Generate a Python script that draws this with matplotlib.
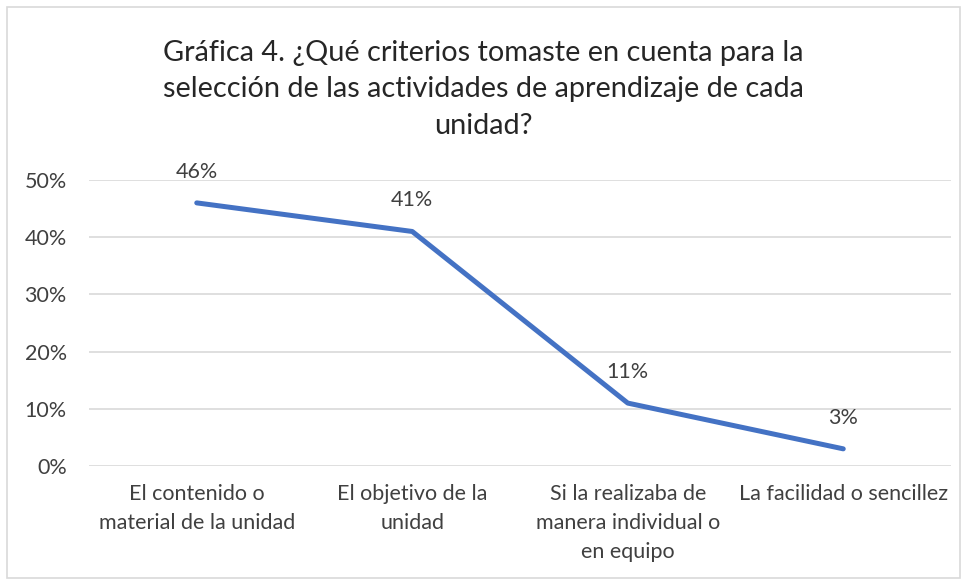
import matplotlib
matplotlib.use("Agg")
import matplotlib.pyplot as plt
from matplotlib.patches import Rectangle
from matplotlib.ticker import PercentFormatter

categories = ["El contenido o\nmaterial de la unidad",
              "El objetivo de la\nunidad",
              "Si la realizaba de\nmanera individual o\nen equipo",
              "La facilidad o sencillez"]
values = [0.46, 0.41, 0.11, 0.03]
labels = ["46%", "41%", "11%", "3%"]
yticks = [0, 0.1, 0.2, 0.3, 0.4, 0.5]
title = "Gráfica 4. ¿Qué criterios tomaste en cuenta para la\nselección de las actividades de aprendizaje de cada\nunidad?"

plt.rcParams['font.family'] = ['Lato', 'DejaVu Sans']

W, H = 967, 584
fig = plt.figure(figsize=(W/100, H/100), dpi=100)
fig.patch.set_facecolor("white")
fig.add_artist(Rectangle((7/W, 6/H), (W-14)/W, (H-13)/H, transform=fig.transFigure,
                         fill=False, edgecolor="#d9d9d9", linewidth=1.2))

x0, x1 = 89, 951
ytop, ybot = 180, 466
ax = fig.add_axes([x0/W, 1-ybot/H, (x1-x0)/W, (ybot-ytop)/H])
xs = list(range(len(categories)))
ax.plot(xs, values, color="#4472C4", linewidth=3.6, solid_capstyle="round", zorder=3,
        clip_on=False)
for x, v, l in zip(xs, values, labels):
    ax.annotate(l, (x, v), xytext=(0, 22.5), textcoords="offset points",
                ha="center", va="center", fontsize=15.5, color="#404040")
ax.set_xlim(-0.5, len(categories)-0.5)
ax.set_ylim(0, 0.5)
ax.set_yticks(yticks)
ax.yaxis.set_major_formatter(PercentFormatter(1.0, decimals=0))
ax.set_xticks(xs)
ax.set_xticklabels(categories, fontsize=15.5, color="#404040", linespacing=1.55)
ax.tick_params(axis="y", labelsize=15.5, labelcolor="#404040", length=0, pad=16)
ax.tick_params(axis="x", length=0, pad=13)
ax.grid(axis="y", color="#d9d9d9", linewidth=1.2)
ax.set_axisbelow(True)
for s in ax.spines.values():
    s.set_visible(False)

fig.text(0.5, 1-89/H, title, ha="center", va="center", fontsize=20.8,
         color="#262626", linespacing=1.5)

fig.savefig("out.png", dpi=100)
